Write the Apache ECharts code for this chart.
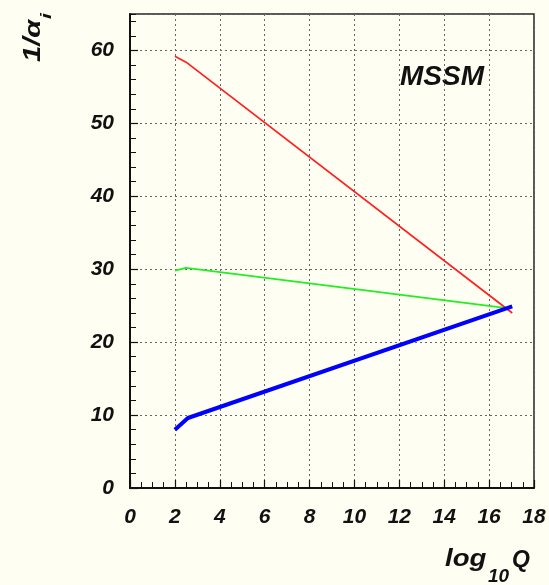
<!DOCTYPE html>
<html>
<head>
<meta charset="utf-8">
<script src="https://cdn.jsdelivr.net/npm/echarts@6/dist/echarts.min.js"></script>
<style>
html,body{margin:0;padding:0;background:#fefef2;}
#c{width:549px;height:585px;}
</style>
</head>
<body>
<div id="c"></div>
<script>
// data
var redX = [2.0, 2.5, 17.03];
var redY = [59.2, 58.4, 24.0];
var greenX = [2.0, 2.5, 16.7];
var greenY = [29.8, 30.2, 24.7];
var blueX = [2.0, 2.58, 17.03];
var blueY = [8.0, 9.6, 24.9];
var xTicks = [0, 2, 4, 6, 8, 10, 12, 14, 16, 18];
var yTicks = [0, 10, 20, 30, 40, 50, 60];
var plotLabel = 'MSSM';

function pairs(xs, ys) { return xs.map(function (x, i) { return [x, ys[i]]; }); }

var font = 'Liberation Sans';
var chart = echarts.init(document.getElementById('c'), null, { renderer: 'canvas' });
var labelStyle = { fontFamily: font, fontStyle: 'italic', fontWeight: 'bold', fontSize: 21, color: '#111' };
function f(px) { return 'italic bold ' + px + 'px "Liberation Sans"'; }

chart.setOption({
  backgroundColor: '#fefef2',
  animation: false,
  grid: { left: 130, right: 15, top: 14, bottom: 97, show: true, borderColor: '#222', borderWidth: 1.5, backgroundColor: 'transparent' },
  xAxis: [{
    type: 'value', min: 0, max: 18, interval: 2,
    axisLine: { show: true, onZero: false, lineStyle: { color: '#111', width: 2 } },
    axisTick: { show: true, inside: true, length: 8, lineStyle: { color: '#111', width: 1.2 } },
    minorTick: { show: true, splitNumber: 4, length: 6, lineStyle: { color: '#111', width: 1 } },
    splitLine: { show: true, lineStyle: { color: '#666', type: [2, 3], width: 1 } },
    axisLabel: Object.assign({ margin: 19, formatter: function (v) { return xTicks.indexOf(v) >= 0 ? String(v) : ''; } }, labelStyle)
  }],
  yAxis: [{
    type: 'value', min: 0, max: 65, interval: 10,
    axisLine: { show: true, onZero: false, lineStyle: { color: '#111', width: 2 } },
    axisTick: { show: true, inside: true, length: 8, lineStyle: { color: '#111', width: 1.2 } },
    splitLine: { show: true, lineStyle: { color: '#666', type: [2, 3], width: 1 } },
    axisLabel: Object.assign({ margin: 16, showMaxLabel: false, formatter: function (v) { return yTicks.indexOf(v) >= 0 ? String(v) : ''; } }, labelStyle)
  }, {
    type: 'value', min: 0, max: 65, interval: 2, position: 'left',
    axisLine: { show: false },
    axisTick: { show: true, inside: true, length: 6, lineStyle: { color: '#111', width: 1 } },
    splitLine: { show: false },
    axisLabel: { show: false }
  }],
  series: [
    { type: 'line', data: pairs(redX, redY), showSymbol: false, lineStyle: { color: '#ff2020', width: 1.7 }, z: 3 },
    { type: 'line', data: pairs(greenX, greenY), showSymbol: false, lineStyle: { color: '#22ee22', width: 1.8 }, z: 3 },
    { type: 'line', data: pairs(blueX, blueY), showSymbol: false, lineStyle: { color: '#0000ff', width: 4 }, z: 4 }
  ],
  graphic: [
    { type: 'text', x: 400, y: 63, style: { text: plotLabel, font: f(28), fill: '#111' } },
    // x-axis title: log10Q
    { type: 'text', x: 445, y: 548, scaleX: 1.2, style: { text: 'log', font: f(23), fill: '#111' } },
    { type: 'text', x: 488, y: 567, style: { text: '10', font: f(19), fill: '#111' } },
    { type: 'text', x: 512, y: 549, style: { text: 'Q', font: f(23), fill: '#111' } },
    // y-axis title: 1/alpha_i
    { type: 'text', x: 22, y: 62, rotation: Math.PI / 2, scaleX: 1.27, style: { text: '1/α', font: f(23), fill: '#111' } },
    { type: 'text', x: 39, y: 19, rotation: Math.PI / 2, scaleX: 1.4, style: { text: 'i', font: f(15), fill: '#111' } }
  ]
});
</script>
</body>
</html>
